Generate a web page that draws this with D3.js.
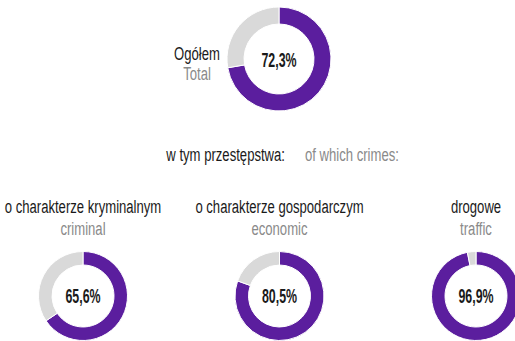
<!DOCTYPE html>
<html>
<head>
<meta charset="utf-8">
<script src="https://cdn.jsdelivr.net/npm/d3@7"></script>
<style>
  html, body { margin: 0; padding: 0; background: #fff; }
  svg { display: block; }
  text { font-family: "Liberation Sans", Arial, sans-serif; }
</style>
</head>
<body>
<svg id="chart" width="515" height="341"></svg>
<script>
// Share of crimes detected, total and by type (percent)
const totalLabelPl = "Ogółem";
const totalLabelEn = "Total";
const totalValue = 72.3;

const headingPl = "w tym przestępstwa:";
const headingEn = "of which crimes:";

const categoriesPl = ["o charakterze kryminalnym", "o charakterze gospodarczym", "drogowe"];
const categoriesEn = ["criminal", "economic", "traffic"];
const categoryValues = [65.6, 80.5, 96.9];

const PURPLE = "#5b1e9e";
const GREY = "#d9d9d9";
const BLACK = "#1a1a1a";
const MUTED = "#8a8a8a";

const svg = d3.select("#chart");
const fmt = v => v.toFixed(1).replace(".", ",") + "%";

// Text helper: places horizontally condensed text with its anchor at (x, y)
function label(x, y, str, opts = {}) {
  const squeeze = opts.squeeze || 0.69;
  return svg.append("text")
    .attr("transform", `translate(${x},${y}) scale(${squeeze},1)`)
    .attr("text-anchor", opts.anchor || "middle")
    .attr("font-size", opts.size || 19)
    .attr("font-weight", opts.weight || "normal")
    .attr("fill", opts.fill || BLACK)
    .text(str);
}

const pie = d3.pie().sort(null).value(d => d);

function donut(cx, cy, rOuter, rInner, value, textOffset) {
  const arc = d3.arc().innerRadius(rInner).outerRadius(rOuter);
  svg.append("g")
    .attr("transform", `translate(${cx},${cy})`)
    .selectAll("path")
    .data(pie([value, 100 - value]))
    .join("path")
    .attr("d", arc)
    .attr("fill", (d, i) => i === 0 ? PURPLE : GREY)
    .attr("stroke", "#fff")
    .attr("stroke-width", 1);
  label(cx, cy + textOffset, fmt(value), { size: 20, weight: "bold", squeeze: 0.62 });
}

// Overall donut with its caption
donut(279, 59, 52, 35, totalValue, 8);
label(197, 60, totalLabelPl);
label(197, 80, totalLabelEn, { fill: MUTED });

// Heading for the breakdown
label(285, 161, headingPl, { anchor: "end" });
label(305, 161, headingEn, { anchor: "start", fill: MUTED });

// Per-category donuts
const x = d3.scalePoint().domain(categoriesPl).range([83, 476]);
categoriesPl.forEach((c, i) => {
  const cx = x(c);
  label(cx, 213, c);
  label(cx, 235, categoriesEn[i], { fill: MUTED });
  donut(cx, 296, 44.5, 31, categoryValues[i], 7);
});
</script>
</body>
</html>
